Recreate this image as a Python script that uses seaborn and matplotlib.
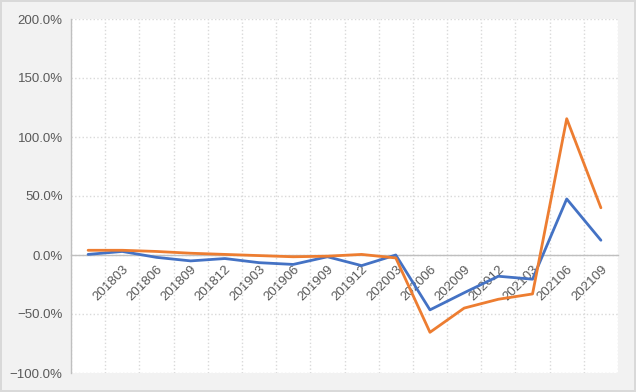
import numpy as np
import pandas as pd
import matplotlib
matplotlib.use("Agg")
import matplotlib.pyplot as plt
from matplotlib.ticker import PercentFormatter
import seaborn as sns

# quarters (first point has no label on the original chart)
quarters = ['', '201803', '201806', '201809', '201812', '201903', '201906', '201909',
            '201912', '202003', '202006', '202009', '202012', '202103', '202106', '202109']
series_a = [0.5, 3.0, -2.0, -5.0, -3.0, -6.5, -8.0, -1.5, -9.0, 0.0,
            -46.5, -32.0, -18.0, -20.5, 47.5, 12.5]
series_b = [4.0, 4.0, 3.0, 1.5, 0.5, -0.5, -1.5, -1.0, 0.5, -2.5,
            -65.5, -45.0, -37.5, -33.0, 115.5, 40.0]
y_ticks = [-100, -50, 0, 50, 100, 150, 200]

df = pd.DataFrame({
    'idx': list(range(len(quarters))) * 2,
    'value': series_a + series_b,
    'series': ['a'] * len(quarters) + ['b'] * len(quarters),
})

sns.set_theme(style="white")
plt.rcParams['font.family'] = ['Liberation Sans', 'DejaVu Sans']

fig = plt.figure(figsize=(6.36, 3.92), dpi=100)
fig.patch.set_facecolor('#f2f2f2')
fig.patch.set_edgecolor('#d9d9d9')
fig.patch.set_linewidth(1.5)
ax = fig.add_axes([71 / 636, 19 / 392, 547 / 636, 354 / 392])
ax.set_facecolor('white')

sns.lineplot(data=df, x='idx', y='value', hue='series',
             palette={'a': '#4472C4', 'b': '#ED7D31'},
             linewidth=2, legend=False, ax=ax, zorder=3)

# category labels sit on the zero line (set before ticks: this resets them)
for side in ['top', 'right']:
    ax.spines[side].set_visible(False)
ax.spines['bottom'].set_position(('data', 0))
ax.spines['bottom'].set_color('#bfbfbf')
ax.spines['bottom'].set_linewidth(1)
ax.spines['left'].set_color('#bfbfbf')
ax.spines['left'].set_linewidth(1)

ax.set_xlim(-0.5, len(quarters) - 0.5)
ax.set_ylim(-100, 200)
ax.set_yticks(y_ticks)
ax.yaxis.set_major_formatter(PercentFormatter(decimals=1))

ax.set_xticks(range(len(quarters)))
ax.set_xticklabels(quarters)
ax.set_xticks(np.arange(-0.5, len(quarters)), minor=True)

# grid
ax.grid(False)
ax.grid(True, which='minor', axis='x', color='#d9d9d9', linestyle=':', linewidth=1)
ax.grid(True, which='major', axis='y', color='#d9d9d9', linestyle=':', linewidth=1)

ax.tick_params(axis='x', which='both', length=0, pad=6, labelsize=9.5, colors='#595959')
ax.tick_params(axis='y', which='both', length=0, pad=6, labelsize=9.5, colors='#595959')
plt.setp(ax.get_xticklabels(), rotation=45, ha='right', va='top', rotation_mode='anchor')
ax.set_xlabel('')
ax.set_ylabel('')

plt.savefig('out.png', dpi=100, facecolor=fig.get_facecolor(), edgecolor=fig.get_edgecolor())
